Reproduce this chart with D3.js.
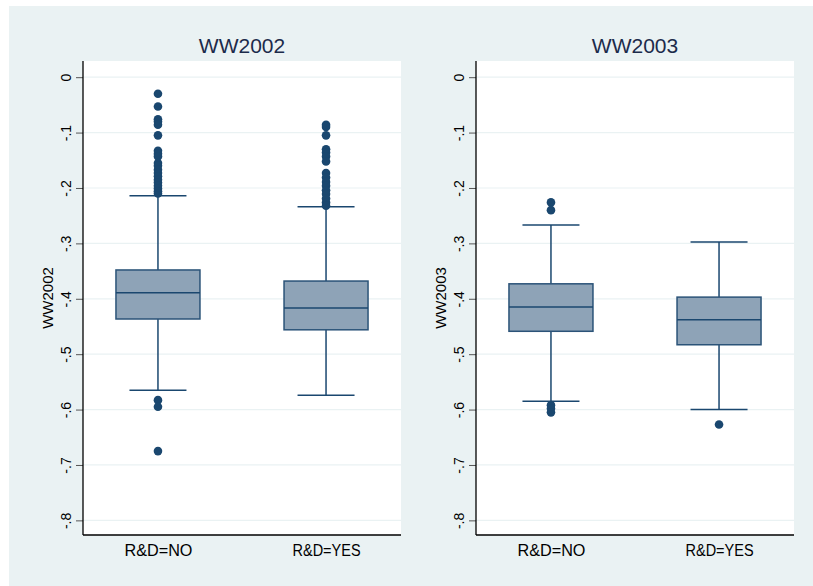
<!DOCTYPE html>
<html>
<head>
    <style>
        body { margin: 0; background: #fff; }
        text { font-family: "Liberation Sans", Arial, sans-serif; }
    </style>
    <script src="https://d3js.org/d3.v7.min.js"></script>
</head>
<body>
    <div id="chart"></div>

    <script>
        // categories and tick labels
        const groups = ["R&D=NO", "R&D=YES"];
        const panelTitles = ["WW2002", "WW2003"];
        const yTicks = [0, -0.1, -0.2, -0.3, -0.4, -0.5, -0.6, -0.7, -0.8];
        const yTickLabels = ["0", "-.1", "-.2", "-.3", "-.4", "-.5", "-.6", "-.7", "-.8"];

        // WW2002 box stats, one value per group (NO, YES)
        const ww2002Low = [-0.565, -0.574];
        const ww2002Q1 = [-0.4365, -0.456];
        const ww2002Median = [-0.389, -0.4166];
        const ww2002Q3 = [-0.348, -0.368];
        const ww2002High = [-0.214, -0.2337];
        const ww2002OutNo = [-0.030, -0.053, -0.076, -0.080, -0.086, -0.105, -0.133, -0.138, -0.143,
            -0.155, -0.160, -0.167, -0.173, -0.179, -0.185, -0.190, -0.196, -0.201, -0.206, -0.210,
            -0.583, -0.595, -0.675];
        const ww2002OutYes = [-0.086, -0.090, -0.105, -0.130, -0.136, -0.143, -0.152, -0.173, -0.181,
            -0.189, -0.196, -0.204, -0.211, -0.219, -0.226, -0.232];

        // WW2003 box stats
        const ww2003Low = [-0.585, -0.600];
        const ww2003Q1 = [-0.4587, -0.483];
        const ww2003Median = [-0.415, -0.438];
        const ww2003Q3 = [-0.373, -0.397];
        const ww2003High = [-0.267, -0.2975];
        const ww2003OutNo = [-0.226, -0.240, -0.592, -0.598, -0.605];
        const ww2003OutYes = [-0.627];

        const panels = [
            { title: panelTitles[0], low: ww2002Low, q1: ww2002Q1, med: ww2002Median, q3: ww2002Q3, high: ww2002High, out: [ww2002OutNo, ww2002OutYes] },
            { title: panelTitles[1], low: ww2003Low, q1: ww2003Q1, med: ww2003Median, q3: ww2003Q3, high: ww2003High, out: [ww2003OutNo, ww2003OutYes] }
        ];

        const W = 813, H = 586;
        const navy = "#1a476f";

        const svg = d3.select("#chart").append("svg")
            .attr("width", W)
            .attr("height", H);

        // outer graph region
        svg.append("rect")
            .attr("x", 9).attr("y", 6)
            .attr("width", W - 9).attr("height", H - 6)
            .attr("fill", "#eaf2f3");

        const plotTop = 61, plotBottom = 535, plotW = 318;
        const plotLefts = [83, 476];

        const y = d3.scaleLinear()
            .domain([-0.8264, 0.0292])
            .range([plotBottom, plotTop]);

        panels.forEach((p, pi) => {
            const left = plotLefts[pi];
            const g = svg.append("g").attr("transform", `translate(${left},0)`);

            const x = d3.scalePoint()
                .domain(groups)
                .range([0, plotW])
                .padding(0.446);

            // plot area
            g.append("rect")
                .attr("x", 0).attr("y", plotTop)
                .attr("width", plotW).attr("height", plotBottom - plotTop)
                .attr("fill", "#fff");

            // grid lines
            g.selectAll(".grid")
                .data(yTicks)
                .enter().append("line")
                .attr("x1", 0).attr("x2", plotW)
                .attr("y1", d => y(d)).attr("y2", d => y(d))
                .attr("stroke", "#eaf2f3")
                .attr("stroke-width", 1.2);

            // title
            g.append("text")
                .attr("x", plotW / 2)
                .attr("y", 53)
                .attr("text-anchor", "middle")
                .attr("font-size", 21)
                .attr("fill", "#1c2b4b")
                .text(p.title);

            // y axis
            const yAxis = d3.axisLeft(y)
                .tickValues(yTicks)
                .tickFormat((d, i) => yTickLabels[i])
                .tickSize(7)
                .tickPadding(5);
            const ya = g.append("g").call(yAxis);
            ya.select(".domain").remove();
            ya.selectAll(".tick line").attr("stroke", "#555");
            ya.selectAll(".tick text")
                .attr("font-size", 14)
                .attr("fill", "#000")
                .attr("transform", "rotate(-90)")
                .attr("x", 0)
                .attr("y", -12)
                .attr("dy", 0)
                .attr("text-anchor", "middle");
            g.append("line")
                .attr("x1", 0).attr("x2", 0)
                .attr("y1", plotTop).attr("y2", plotBottom)
                .attr("stroke", "#000").attr("stroke-width", 1.3);

            // x axis
            const xAxis = d3.axisBottom(x).tickSize(0).tickPadding(10);
            const xa = g.append("g")
                .attr("transform", `translate(0,${plotBottom})`)
                .call(xAxis);
            xa.select(".domain").remove();
            xa.selectAll(".tick text")
                .attr("font-size", 16)
                .attr("fill", "#000")
                .attr("textLength", 68)
                .attr("lengthAdjust", "spacingAndGlyphs");
            g.append("line")
                .attr("x1", 0).attr("x2", plotW)
                .attr("y1", plotBottom).attr("y2", plotBottom)
                .attr("stroke", "#000").attr("stroke-width", 1.3);

            // y axis title
            g.append("text")
                .attr("transform", `translate(-30,${(plotTop + plotBottom) / 2}) rotate(-90)`)
                .attr("text-anchor", "middle")
                .attr("font-size", 15)
                .attr("fill", "#000")
                .text(p.title);

            // boxes
            const boxW = 84, capW = 57;
            groups.forEach((grp, i) => {
                const cx = x(grp);
                // whiskers
                g.append("line")
                    .attr("x1", cx).attr("x2", cx)
                    .attr("y1", y(p.high[i])).attr("y2", y(p.q3[i]))
                    .attr("stroke", navy).attr("stroke-width", 1.5);
                g.append("line")
                    .attr("x1", cx).attr("x2", cx)
                    .attr("y1", y(p.q1[i])).attr("y2", y(p.low[i]))
                    .attr("stroke", navy).attr("stroke-width", 1.5);
                [p.high[i], p.low[i]].forEach(v => {
                    g.append("line")
                        .attr("x1", cx - capW / 2).attr("x2", cx + capW / 2)
                        .attr("y1", y(v)).attr("y2", y(v))
                        .attr("stroke", navy).attr("stroke-width", 1.5);
                });
                // box
                g.append("rect")
                    .attr("x", cx - boxW / 2)
                    .attr("y", y(p.q3[i]))
                    .attr("width", boxW)
                    .attr("height", y(p.q1[i]) - y(p.q3[i]))
                    .attr("fill", "#8ea3b7")
                    .attr("stroke", "#2b5378")
                    .attr("stroke-width", 1.5);
                g.append("line")
                    .attr("x1", cx - boxW / 2).attr("x2", cx + boxW / 2)
                    .attr("y1", y(p.med[i])).attr("y2", y(p.med[i]))
                    .attr("stroke", navy).attr("stroke-width", 1.5);
                // outliers
                g.selectAll(null)
                    .data(p.out[i])
                    .enter().append("circle")
                    .attr("cx", cx)
                    .attr("cy", d => y(d))
                    .attr("r", 4.3)
                    .attr("fill", navy);
            });
        });
    </script>
</body>
</html>
